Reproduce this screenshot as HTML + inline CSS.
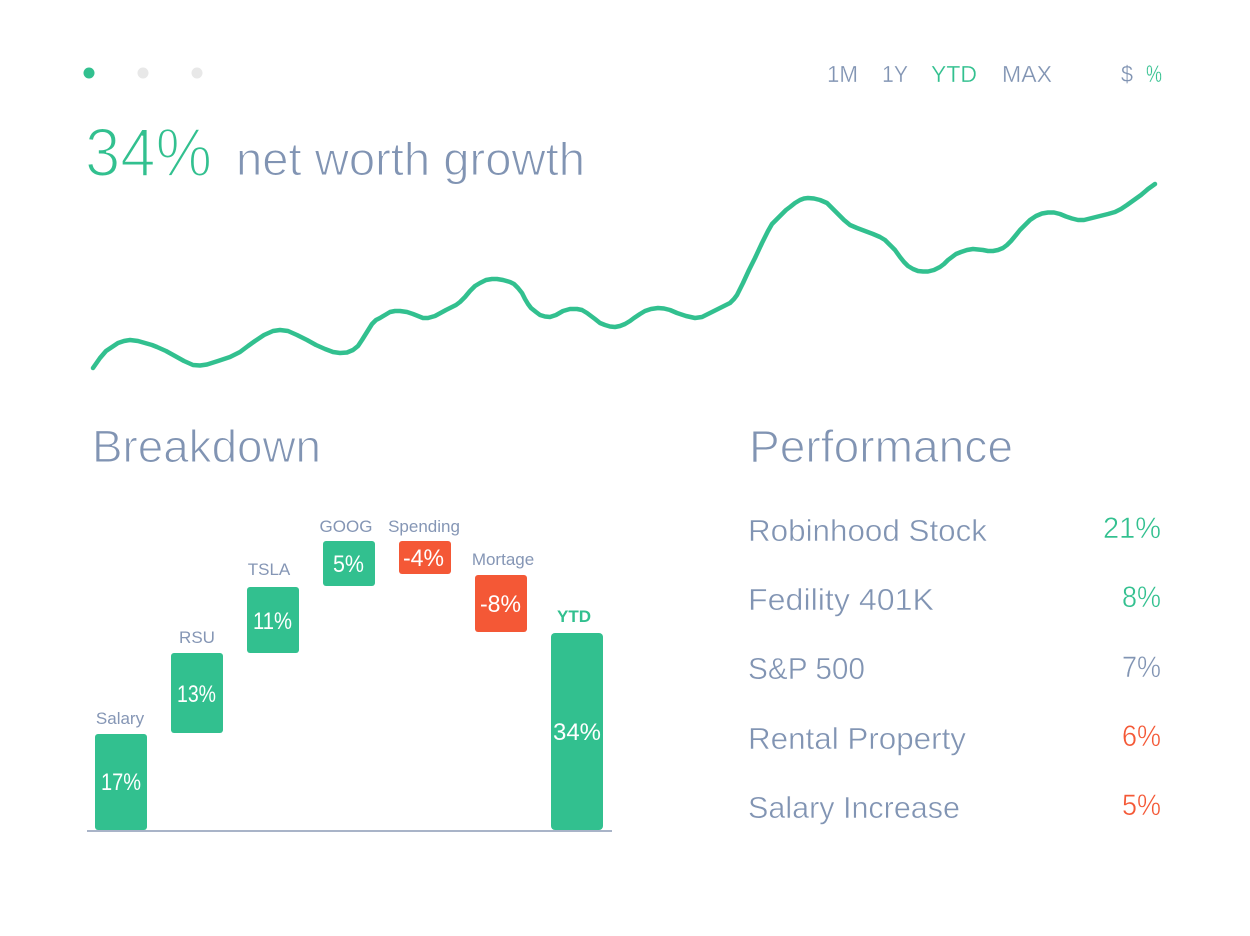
<!DOCTYPE html>
<html>
<head>
<meta charset="utf-8">
<style>
  html, body { margin:0; padding:0; background:#ffffff; }
  body { width:1250px; height:936px; overflow:hidden; }
  svg { display:block; }
  text { font-family: "Liberation Sans", "DejaVu Sans", sans-serif; }
</style>
</head>
<body>
<svg width="1250" height="936" viewBox="0 0 1250 936" xmlns="http://www.w3.org/2000/svg">
  <rect width="1250" height="936" fill="#ffffff"/>

  <!-- pager dots -->
  <circle cx="89" cy="73" r="5.5" fill="#32c08f"/>
  <circle cx="143" cy="73" r="5.5" fill="#e8e8e8"/>
  <circle cx="197" cy="73" r="5.5" fill="#e8e8e8"/>

  <!-- top nav -->
  <g font-size="23" fill="#8194b3" stroke="#ffffff" stroke-width="0.3">
    <text x="827" y="82" textLength="31" lengthAdjust="spacingAndGlyphs">1M</text>
    <text x="882" y="82" textLength="26" lengthAdjust="spacingAndGlyphs">1Y</text>
    <text x="931" y="82" textLength="46" lengthAdjust="spacingAndGlyphs" fill="#32c08f">YTD</text>
    <text x="1002" y="82" textLength="50" lengthAdjust="spacingAndGlyphs">MAX</text>
    <text x="1121" y="82" textLength="12" lengthAdjust="spacingAndGlyphs">$</text>
    <text x="1146" y="82" font-size="24" textLength="16" lengthAdjust="spacingAndGlyphs" fill="#32c08f">%</text>
  </g>

  <!-- headline -->
  <text x="85" y="176" font-size="69" fill="#32c08f" stroke="#ffffff" stroke-width="2" textLength="127" lengthAdjust="spacingAndGlyphs">34%</text>
  <text x="236" y="175" font-size="46" fill="#8194b3" stroke="#ffffff" stroke-width="1.1" textLength="349" lengthAdjust="spacingAndGlyphs">net worth growth</text>

  <!-- line chart -->
  <polyline fill="none" stroke="#32c08f" stroke-width="4.5" stroke-linecap="round" stroke-linejoin="round"
    points="93,368 100,358 106,351 112,347 118,343 124,341 130,340 138,341 145,343 152,345 157,347 166,351 175,356 184,361 193,365 200,365.5 207,364.5 218,361 230,357 240,352 248,346 255,341 264,335 273,331 280,330 288,331 297,335 307,340 316,345 325,349 333,352 340,353 347,352.5 353,350 358,346 362,340 367,332 372,324 376,320 380,318 385,315 390,312 395,311 400,311 407,312 413,314 418,316 423,318 428,318 435,316 446,310 456,305 460,302 465,297 470,291 475,286 480,283 486,280 492,279 497,279 503,280 510,282 514,284 518,288 522,293 525,299 528,304 531,308 536,312 540,315 545,316.5 550,317 556,315 563,311 570,309 577,309 582,310 587,313 591,316 595,319 600,323 605,325 610,326.5 615,327 620,326 625,324 630,321 634,318 640,314 645,311 651,309 658,308 664,308.5 670,310 677,313 686,316 695,318 702,317 710,313 720,308 730,303 734,299 737,295 743,283 749,270 755,258 762,243 768,231 772,224 777,219 782,214 786,210 790,207 795,203 800,200 804,198.5 808,198 814,198.5 820,200 827,203 832,208 838,214 844,220 850,225 857,228 865,231 873,234 880,237 885,240 890,245 895,250 900,257 904,262 908,266 913,269 918,271 923,271.5 928,271.5 934,270 940,267 944,264 948,260 952,257 956,254 961,252 967,250 973,249 978,249.5 983,250 988,251 993,251 998,250 1003,248 1007,245 1011,241 1016,235 1020,230 1025,225 1030,220 1036,216 1042,213.5 1048,212.5 1054,212.5 1060,214 1066,216.5 1072,218.5 1078,220 1084,220 1090,218.5 1100,216 1108,214 1115,212 1121,209 1127,205 1134,200 1141,195 1148,189 1155,184"/>

  <!-- section titles -->
  <text x="92" y="462" font-size="45" fill="#8194b3" stroke="#ffffff" stroke-width="1.1" textLength="229" lengthAdjust="spacingAndGlyphs">Breakdown</text>
  <text x="749" y="462" font-size="45" fill="#8194b3" stroke="#ffffff" stroke-width="1.1" textLength="264" lengthAdjust="spacingAndGlyphs">Performance</text>

  <!-- waterfall bars -->
  <g>
    <rect x="95" y="734" width="52" height="96" rx="3" fill="#32c08f"/>
    <rect x="171" y="653" width="52" height="80" rx="3" fill="#32c08f"/>
    <rect x="247" y="587" width="52" height="66" rx="3" fill="#32c08f"/>
    <rect x="323" y="541" width="52" height="45" rx="3" fill="#32c08f"/>
    <rect x="399" y="541" width="52" height="33" rx="3" fill="#f45836"/>
    <rect x="475" y="575" width="52" height="57" rx="3" fill="#f45836"/>
    <rect x="551" y="633" width="52" height="197" rx="4" fill="#32c08f"/>
  </g>
  <line x1="87" y1="831" x2="612" y2="831" stroke="#a9b4c8" stroke-width="2"/>

  <!-- bar labels -->
  <g font-size="17" fill="#8596b5" text-anchor="middle">
    <text x="120" y="724">Salary</text>
    <text x="197" y="643">RSU</text>
    <text x="269" y="575">TSLA</text>
    <text x="346" y="532">GOOG</text>
    <text x="424" y="532">Spending</text>
    <text x="503" y="565">Mortage</text>
  </g>
  <text x="574" y="622" font-size="17" font-weight="bold" fill="#32c08f" text-anchor="middle">YTD</text>

  <!-- bar values -->
  <g font-size="24" fill="#ffffff">
    <text x="101" y="790" textLength="40" lengthAdjust="spacingAndGlyphs">17%</text>
    <text x="177" y="702" textLength="39" lengthAdjust="spacingAndGlyphs">13%</text>
    <text x="253" y="629" textLength="39" lengthAdjust="spacingAndGlyphs">11%</text>
    <text x="333" y="572" textLength="31" lengthAdjust="spacingAndGlyphs">5%</text>
    <text x="403" y="566" textLength="41" lengthAdjust="spacingAndGlyphs">-4%</text>
    <text x="480" y="612" textLength="41" lengthAdjust="spacingAndGlyphs">-8%</text>
    <text x="553" y="740" textLength="48" lengthAdjust="spacingAndGlyphs">34%</text>
  </g>

  <!-- performance list -->
  <g font-size="31" fill="#8194b3" stroke="#ffffff" stroke-width="0.5">
    <text x="748" y="541" textLength="239" lengthAdjust="spacingAndGlyphs">Robinhood Stock</text>
    <text x="748" y="610" textLength="186" lengthAdjust="spacingAndGlyphs">Fedility 401K</text>
    <text x="748" y="679" textLength="117" lengthAdjust="spacingAndGlyphs">S&amp;P 500</text>
    <text x="748" y="749" textLength="218" lengthAdjust="spacingAndGlyphs">Rental Property</text>
    <text x="748" y="818" textLength="212" lengthAdjust="spacingAndGlyphs">Salary Increase</text>
  </g>
  <g font-size="30" stroke="#ffffff" stroke-width="0.5">
    <text x="1103" y="538" fill="#32c08f" textLength="58" lengthAdjust="spacingAndGlyphs">21%</text>
    <text x="1122" y="607" fill="#32c08f" textLength="39" lengthAdjust="spacingAndGlyphs">8%</text>
    <text x="1122" y="677" fill="#8194b3" textLength="39" lengthAdjust="spacingAndGlyphs">7%</text>
    <text x="1122" y="746" fill="#f45836" textLength="39" lengthAdjust="spacingAndGlyphs">6%</text>
    <text x="1122" y="815" fill="#f45836" textLength="39" lengthAdjust="spacingAndGlyphs">5%</text>
  </g>
</svg>
</body>
</html>
